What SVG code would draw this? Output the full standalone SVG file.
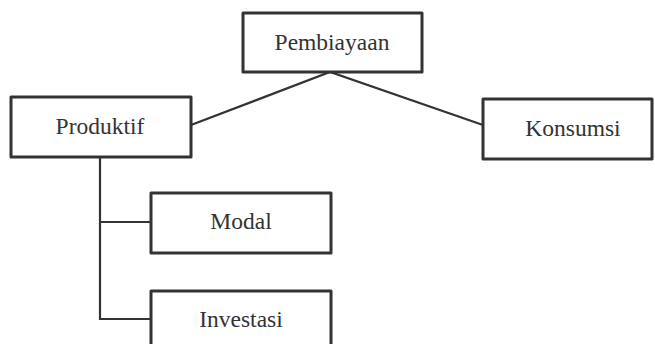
<svg xmlns="http://www.w3.org/2000/svg" width="655" height="344" viewBox="0 0 655 344">
<style>
.box{fill:#fff;stroke:#333;stroke-width:3;stroke-linejoin:round}
.lbl{font-family:"Liberation Serif",serif;font-size:23.5px;fill:#333;text-anchor:middle}
.con{fill:none;stroke:#333;stroke-width:2.2}
</style>
<rect width="655" height="344" fill="#fff"/>
<g id="connectors">
<polyline class="con" points="191,125 330,72 483,125"/>
<polyline class="con" points="100,157 100,319 150,319"/>
<line class="con" x1="100" y1="222" x2="150" y2="222"/>
</g>
<g id="pembiayaan"><rect class="box" x="243" y="13" width="179" height="59"/><text class="lbl" x="332" y="50">Pembiayaan</text></g>
<g id="produktif"><rect class="box" x="11" y="97" width="180" height="60"/><text class="lbl" x="100" y="134">Produktif</text></g>
<g id="konsumsi"><rect class="box" x="483" y="99" width="169" height="60"/><text class="lbl" x="573" y="136">Konsumsi</text></g>
<g id="modal"><rect class="box" x="151" y="193" width="180" height="60"/><text class="lbl" x="241" y="229">Modal</text></g>
<g id="investasi"><rect class="box" x="151" y="291" width="180" height="70"/><text class="lbl" x="241" y="327">Investasi</text></g>
</svg>
